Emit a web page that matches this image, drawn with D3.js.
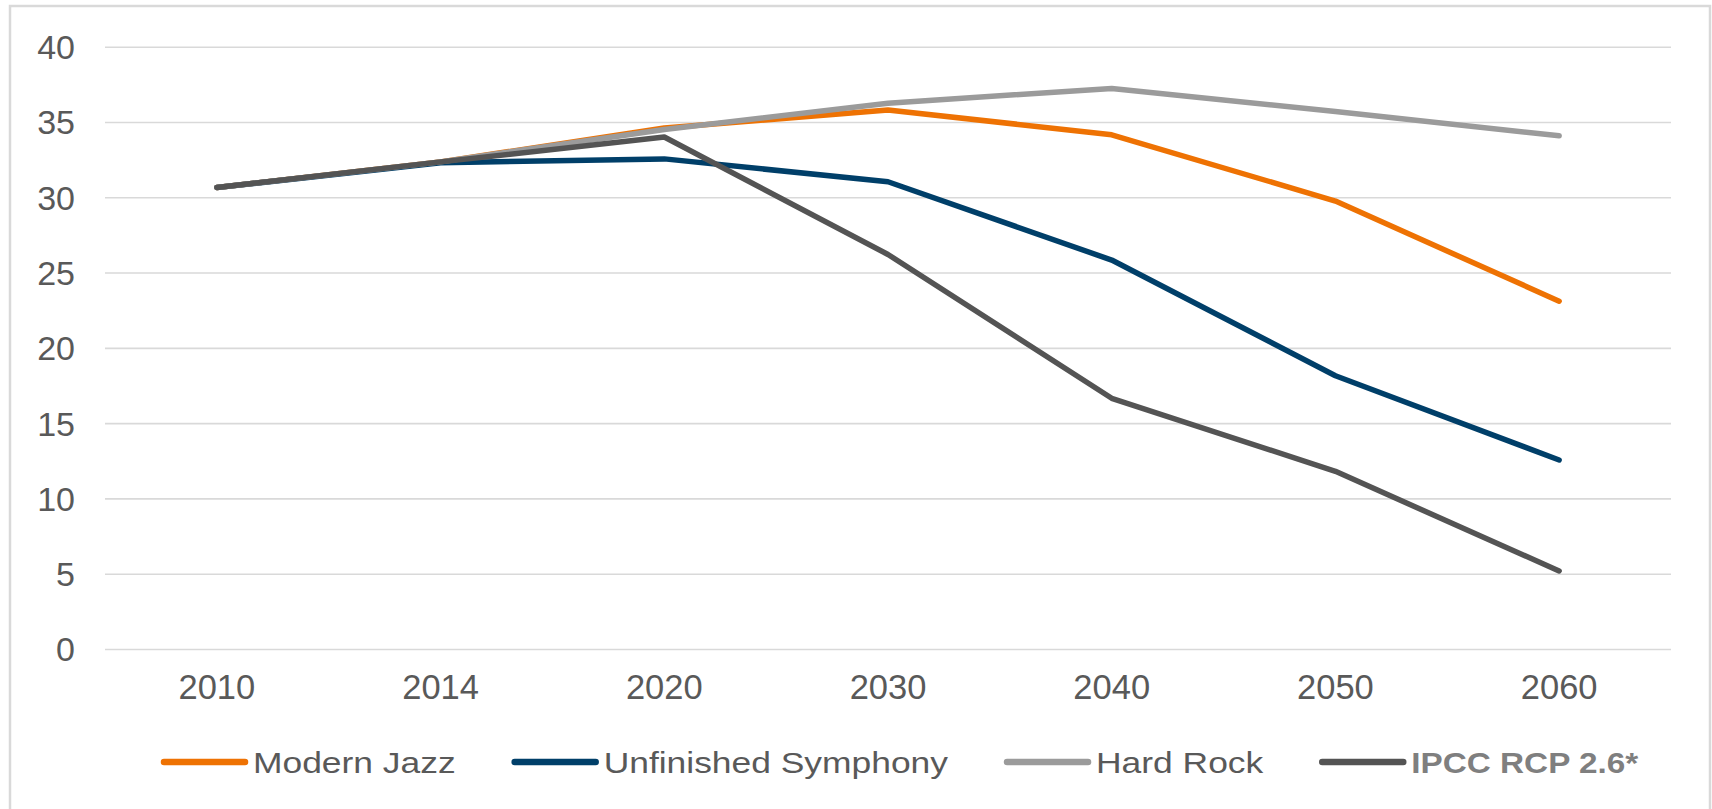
<!DOCTYPE html>
<html>
<head>
<meta charset="utf-8">
<script src="https://cdn.jsdelivr.net/npm/d3@7"></script>
<style>
  html, body { margin: 0; padding: 0; background: #ffffff; }
  svg { display: block; font-family: "Liberation Sans", Arial, sans-serif; }
</style>
</head>
<body>
<svg id="chart" width="1712" height="809"></svg>
<script>
// Category labels along the x axis
const years = ["2010", "2014", "2020", "2030", "2040", "2050", "2060"];

// Scenario series, one value per year
const modernJazz         = [30.65, 32.35, 34.6, 35.8, 34.15, 29.75, 23.1];
const unfinishedSymphony = [30.65, 32.3, 32.55, 31.03, 25.83, 18.15, 12.55];
const hardRock           = [30.65, 32.35, 34.5, 36.25, 37.23, 35.7, 34.08];
const ipccRcp26          = [30.65, 32.35, 34.0, 26.2, 16.65, 11.8, 5.18];

// Series names as shown in the legend
const seriesNames = ["Modern Jazz", "Unfinished Symphony", "Hard Rock", "IPCC RCP 2.6*"];

// Y-axis tick values
const yTicks = [0, 5, 10, 15, 20, 25, 30, 35, 40];

const seriesValues = [modernJazz, unfinishedSymphony, hardRock, ipccRcp26];
const seriesColors = ["#ee7203", "#003f69", "#9b9b9b", "#545454"];
const seriesBold = [false, false, false, true];

const svg = d3.select("#chart");

// Outer frame
svg.append("rect")
  .attr("x", 10).attr("y", 6)
  .attr("width", 1700).attr("height", 820)
  .attr("fill", "#ffffff")
  .attr("stroke", "#d9d9d9")
  .attr("stroke-width", 2.5);

const plot = { left: 105, right: 1671, top: 46.7, bottom: 649 };

const x = d3.scaleBand()
  .domain(years)
  .range([plot.left, plot.right])
  .paddingInner(0)
  .paddingOuter(0);

const y = d3.scaleLinear()
  .domain([0, 40])
  .range([plot.bottom, plot.top]);

const textColor = "#595959";

// Horizontal gridlines with y tick labels
const yAxis = d3.axisLeft(y)
  .tickValues(yTicks)
  .tickSize(-(plot.right - plot.left))
  .tickPadding(30)
  .tickFormat(d3.format("d"));

const gy = svg.append("g")
  .attr("transform", `translate(${plot.left},0)`)
  .call(yAxis);
gy.select(".domain").remove();
gy.selectAll(".tick line")
  .attr("stroke", "#d9d9d9")
  .attr("stroke-width", 1.6);
gy.selectAll(".tick text")
  .attr("fill", textColor)
  .attr("font-size", 34)
  .attr("dy", "0.35em");

// X axis labels
const xAxis = d3.axisBottom(x).tickSize(0).tickPadding(26);
const gx = svg.append("g")
  .attr("transform", `translate(0,${plot.bottom})`)
  .call(xAxis);
gx.select(".domain").remove();
gx.selectAll(".tick text")
  .attr("fill", textColor)
  .attr("font-size", 34.5);

// Series lines
const line = d3.line()
  .x((d, i) => x(years[i]) + x.bandwidth() / 2)
  .y(d => y(d));

svg.append("g")
  .selectAll("path")
  .data(seriesValues)
  .join("path")
  .attr("d", d => line(d))
  .attr("fill", "none")
  .attr("stroke", (d, i) => seriesColors[i])
  .attr("stroke-width", 5.5)
  .attr("stroke-linejoin", "round")
  .attr("stroke-linecap", "round");

// Legend, laid out left to right
const legend = svg.append("g").attr("class", "legend");
const swatchLen = 81, swatchGap = 8, itemGap = 59, legendY = 762;
let cursor = 164;
seriesNames.forEach((name, i) => {
  const g = legend.append("g");
  g.append("line")
    .attr("x1", cursor).attr("x2", cursor + swatchLen)
    .attr("y1", legendY).attr("y2", legendY)
    .attr("stroke", seriesColors[i])
    .attr("stroke-width", 6.5)
    .attr("stroke-linecap", "round");
  const tx = cursor + swatchLen + swatchGap;
  const t = g.append("text")
    .attr("x", tx)
    .attr("y", legendY + 10.5)
    .attr("fill", seriesBold[i] ? "#7f7f7f" : textColor)
    .attr("font-weight", seriesBold[i] ? "bold" : "normal")
    .attr("font-size", seriesBold[i] ? 30 : 29.5)
    .text(name);
  const natural = t.node().getComputedTextLength();
  const stretched = natural * (seriesBold[i] ? 1.11 : 1.2);
  t.attr("textLength", stretched).attr("lengthAdjust", "spacingAndGlyphs");
  cursor = tx + stretched + itemGap;
});
</script>
</body>
</html>
